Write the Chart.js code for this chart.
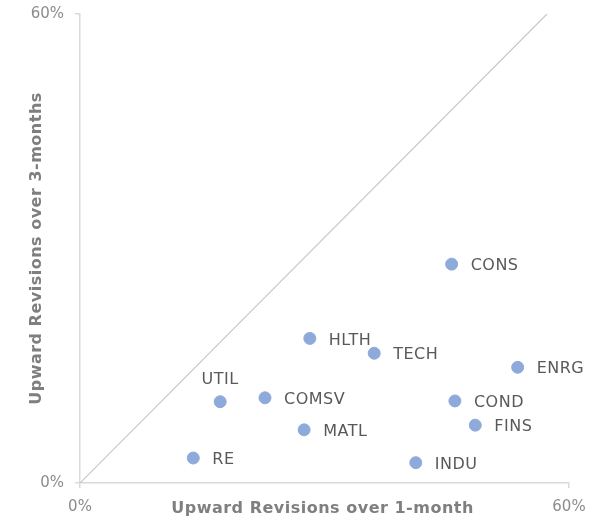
<!DOCTYPE html>
<html>
<head>
<meta charset="utf-8">
<script src="https://cdn.jsdelivr.net/npm/chart.js@4.4.1/dist/chart.umd.min.js"></script>
<style>
  html, body { margin: 0; padding: 0; background: #fff; }
  #wrap { width: 606px; height: 521px; position: relative; }
</style>
</head>
<body>
<div id="wrap"><canvas id="revChart"></canvas></div>
<script>
// Sectoare si revizuiri (procente)
const sectors = ['CONS', 'HLTH', 'TECH', 'ENRG', 'UTIL', 'COMSV', 'COND', 'FINS', 'MATL', 'RE', 'INDU'];
const rev1m = [45.6, 28.2, 36.1, 53.7, 17.2, 22.7, 46.0, 48.5, 27.5, 13.9, 41.2];
const rev3m = [28.0, 18.5, 16.6, 14.8, 10.4, 10.9, 10.5, 7.4, 6.8, 3.2, 2.6];
const diagX = [0, 57.3];
const diagY = [0, 60];
const tickValues = [0, 60];
const tickLabels = ['0%', '60%'];

const FONT = "'DejaVu Sans', sans-serif";

// Etichete langa puncte
const pointLabels = {
    id: 'pointLabels',
    afterDatasetsDraw(chart) {
        const ctx = chart.ctx;
        const meta = chart.getDatasetMeta(1);
        ctx.save();
        ctx.font = '16px ' + FONT;
        ctx.letterSpacing = '0.5px';
        ctx.fillStyle = '#595959';
        ctx.textBaseline = 'middle';
        meta.data.forEach((pt, i) => {
            if (sectors[i] === 'UTIL') {
                ctx.textAlign = 'center';
                ctx.fillText(sectors[i], pt.x, pt.y - 22);
            } else {
                ctx.textAlign = 'left';
                ctx.fillText(sectors[i], pt.x + 19, pt.y + 2);
            }
        });
        ctx.letterSpacing = '0px';
        ctx.restore();
    }
};

// Etichete axe + titluri
const axisText = {
    id: 'axisText',
    afterDraw(chart) {
        const ctx = chart.ctx;
        const area = chart.chartArea;
        const xs = chart.scales.x;
        const ys = chart.scales.y;
        ctx.save();
        ctx.font = '15px ' + FONT;
        ctx.fillStyle = '#8c8c8c';
        ctx.textBaseline = 'middle';
        ctx.textAlign = 'center';
        tickValues.forEach((v, i) => {
            ctx.fillText(tickLabels[i], xs.getPixelForValue(v), area.bottom + 24);
        });
        ctx.textAlign = 'right';
        tickValues.forEach((v, i) => {
            ctx.fillText(tickLabels[i], area.left - 16, ys.getPixelForValue(v));
        });

        ctx.font = 'bold 16px ' + FONT;
        ctx.letterSpacing = '0.5px';
        ctx.fillStyle = '#7f7f7f';
        ctx.textAlign = 'center';
        ctx.fillText('Upward Revisions over 1-month', (area.left + area.right) / 2 - 2, 509);
        ctx.translate(37, (area.top + area.bottom) / 2);
        ctx.rotate(-Math.PI / 2);
        ctx.fillText('Upward Revisions over 3-months', 0, 0);
        ctx.letterSpacing = '0px';
        ctx.restore();
    }
};

const ctx = document.getElementById('revChart').getContext('2d');
new Chart(ctx, {
    type: 'scatter',
    data: {
        datasets: [{
            type: 'line',
            data: diagX.map((x, i) => ({ x: x, y: diagY[i] })),
            borderColor: '#c8c8c8',
            borderWidth: 1.2,
            pointRadius: 0,
            fill: false
        }, {
            data: rev1m.map((x, i) => ({ x: x, y: rev3m[i] })),
            backgroundColor: '#8eaadb',
            borderColor: '#8eaadb',
            pointRadius: 6,
            pointHoverRadius: 6
        }]
    },
    options: {
        responsive: true,
        maintainAspectRatio: false,
        animation: false,
        layout: {
            padding: { top: 14, right: 37, left: 0, bottom: 0 }
        },
        plugins: {
            legend: { display: false },
            tooltip: { enabled: false }
        },
        scales: {
            x: {
                type: 'linear',
                min: 0,
                max: 60,
                afterBuildTicks: (scale) => { scale.ticks = tickValues.map(v => ({ value: v })); },
                afterFit: (scale) => { scale.height = 38; },
                grid: {
                    drawOnChartArea: false,
                    drawTicks: true,
                    tickLength: 5,
                    color: '#d9d9d9',
                    lineWidth: 1.5
                },
                border: { color: '#d9d9d9', width: 1.5 },
                ticks: { display: false }
            },
            y: {
                type: 'linear',
                min: 0,
                max: 60,
                afterBuildTicks: (scale) => { scale.ticks = tickValues.map(v => ({ value: v })); },
                afterFit: (scale) => { scale.width = 80; },
                grid: {
                    drawOnChartArea: false,
                    drawTicks: true,
                    tickLength: 5,
                    color: '#d9d9d9',
                    lineWidth: 1.5
                },
                border: { color: '#d9d9d9', width: 1.5 },
                ticks: { display: false }
            }
        }
    },
    plugins: [pointLabels, axisText]
});
</script>
</body>
</html>
